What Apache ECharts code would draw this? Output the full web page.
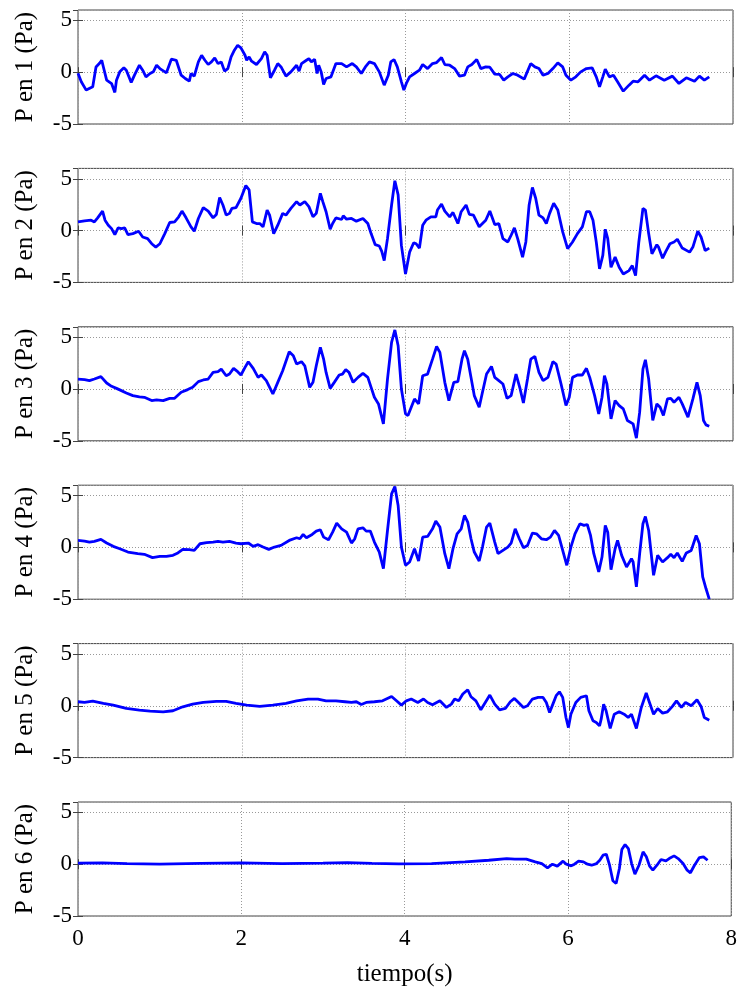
<!DOCTYPE html>
<html>
<head>
<meta charset="utf-8">
<script src="https://cdn.jsdelivr.net/npm/echarts@6/dist/echarts.min.js"></script>
<style>
html, body { margin: 0; padding: 0; background: #fff; }
#main { width: 740px; height: 996px; }
</style>
</head>
<body>
<div id="main"></div>
<script>
// presion en cada sensor, pares [tiempo (s), P (Pa)]
var p1 = [[0,-0.1],[0.01,-0.22],[0.04,-0.93],[0.10,-1.73],[0.18,-1.4],[0.20,-1.25],[0.22,0.5],[0.26,0.83],[0.29,1.15],[0.31,0.5],[0.35,-0.77],[0.41,-1.1],[0.45,-1.95],[0.47,-0.77],[0.51,0.03],[0.56,0.42],[0.59,0.19],[0.65,-0.99],[0.69,-0.29],[0.75,0.67],[0.79,0.19],[0.83,-0.45],[0.88,-0.13],[0.92,0.03],[0.96,0.67],[1.0,0.35],[1.08,-0.06],[1.14,1.25],[1.20,1.15],[1.26,-0.29],[1.31,-0.61],[1.36,-0.87],[1.38,-0.13],[1.42,-0.38],[1.47,0.99],[1.51,1.63],[1.55,1.15],[1.59,0.74],[1.63,0.99],[1.67,1.38],[1.71,0.83],[1.75,0.99],[1.79,0.1],[1.83,0.35],[1.87,1.47],[1.91,2.12],[1.95,2.6],[1.99,2.34],[2.04,1.63],[2.06,1.15],[2.09,1.47],[2.12,1.06],[2.18,0.74],[2.24,1.31],[2.28,1.96],[2.31,1.63],[2.35,-0.54],[2.40,0.19],[2.44,0.83],[2.48,0.51],[2.54,-0.38],[2.60,0.03],[2.67,0.67],[2.70,0.1],[2.73,0.83],[2.79,1.15],[2.82,1.31],[2.85,0.99],[2.89,1.25],[2.92,-0.13],[2.94,0.67],[2.97,0.03],[3.00,-1.19],[3.03,-0.61],[3.09,-0.45],[3.15,0.83],[3.22,0.83],[3.28,0.51],[3.35,0.83],[3.40,0.51],[3.46,-0.13],[3.51,0.51],[3.56,0.99],[3.62,0.83],[3.68,0.03],[3.74,-1.25],[3.79,-0.29],[3.82,0.99],[3.86,1.22],[3.90,0.51],[3.95,-0.93],[3.98,-1.73],[4.01,-1.09],[4.05,-0.45],[4.11,-0.13],[4.17,0.19],[4.21,0.74],[4.27,0.35],[4.33,0.83],[4.38,0.93],[4.44,1.41],[4.48,0.74],[4.54,0.67],[4.60,0.35],[4.66,-0.38],[4.72,-0.29],[4.76,0.51],[4.81,0.74],[4.87,1.22],[4.92,0.35],[4.98,0.51],[5.03,0.48],[5.09,-0.19],[5.15,-0.22],[5.20,-0.77],[5.25,-0.45],[5.31,-0.13],[5.37,-0.29],[5.45,-0.67],[5.53,0.83],[5.58,0.51],[5.63,0.35],[5.68,-0.29],[5.74,-0.13],[5.80,0.35],[5.86,0.9],[5.92,0.51],[5.96,-0.29],[6.02,-0.77],[6.08,-0.45],[6.14,0.03],[6.21,0.35],[6.28,0.42],[6.33,-0.45],[6.37,-1.41],[6.41,-0.45],[6.44,0.29],[6.49,-0.45],[6.54,-0.29],[6.59,-0.93],[6.66,-1.83],[6.73,-1.25],[6.78,-0.87],[6.84,-0.93],[6.92,-0.29],[6.98,-0.77],[7.06,-0.35],[7.16,-0.77],[7.26,-0.38],[7.34,-1.09],[7.43,-0.54],[7.53,-0.87],[7.59,-0.38],[7.65,-0.77],[7.71,-0.45]];

var p2 = [[0,0.84],[0.08,0.94],[0.16,1.0],[0.20,0.84],[0.24,1.23],[0.30,1.88],[0.33,1.0],[0.37,0.52],[0.41,0.19],[0.45,-0.39],[0.49,0.26],[0.53,0.19],[0.57,0.26],[0.61,-0.39],[0.67,-0.29],[0.74,-0.06],[0.79,-0.62],[0.85,-0.78],[0.90,-1.27],[0.95,-1.59],[1.0,-1.27],[1.06,-0.29],[1.12,0.78],[1.18,0.84],[1.23,1.33],[1.27,1.88],[1.32,1.23],[1.38,0.36],[1.42,-0.06],[1.47,1.17],[1.53,2.21],[1.59,1.88],[1.65,1.23],[1.69,1.56],[1.73,3.18],[1.77,2.47],[1.81,1.49],[1.85,1.66],[1.88,2.14],[1.93,2.21],[1.99,3.12],[2.05,4.35],[2.09,3.93],[2.13,0.84],[2.18,0.68],[2.22,0.68],[2.26,0.36],[2.31,1.98],[2.34,1.49],[2.39,-0.29],[2.44,0.52],[2.50,1.66],[2.54,1.49],[2.60,2.14],[2.67,2.79],[2.71,2.47],[2.77,2.79],[2.82,2.31],[2.87,1.33],[2.91,1.66],[2.96,3.6],[2.99,2.79],[3.03,1.82],[3.08,0.13],[3.11,0.68],[3.15,1.23],[3.22,1.07],[3.24,1.43],[3.28,1.1],[3.34,1.17],[3.40,0.91],[3.48,1.17],[3.54,0.68],[3.58,-0.29],[3.63,-1.36],[3.68,-1.49],[3.71,-2.01],[3.74,-2.89],[3.78,-0.78],[3.83,2.47],[3.87,4.81],[3.91,3.44],[3.95,-1.43],[4.0,-4.19],[4.05,-2.08],[4.10,-1.17],[4.13,-1.27],[4.17,-1.69],[4.21,0.52],[4.25,1.0],[4.31,1.33],[4.37,1.33],[4.39,1.98],[4.44,2.56],[4.48,1.88],[4.54,1.33],[4.58,1.75],[4.64,0.68],[4.68,1.82],[4.74,2.47],[4.78,1.56],[4.83,1.49],[4.90,0.36],[4.98,1.0],[5.03,1.88],[5.09,0.58],[5.14,0.68],[5.19,-0.78],[5.25,-1.1],[5.29,-0.45],[5.33,0.26],[5.37,-0.78],[5.43,-2.56],[5.47,-1.1],[5.51,2.47],[5.55,4.16],[5.59,3.12],[5.63,1.49],[5.68,1.23],[5.72,0.68],[5.76,1.66],[5.81,2.63],[5.86,1.98],[5.92,-0.13],[5.98,-1.75],[6.04,-1.1],[6.10,-0.29],[6.16,0.36],[6.21,1.82],[6.25,1.82],[6.29,1.0],[6.33,-1.1],[6.37,-3.7],[6.41,-2.4],[6.44,0.13],[6.47,-0.78],[6.51,-3.54],[6.56,-2.56],[6.61,-3.54],[6.66,-4.19],[6.73,-3.86],[6.77,-3.38],[6.81,-4.35],[6.85,-1.1],[6.90,2.14],[6.93,1.98],[6.97,-0.29],[7.01,-2.24],[7.07,-1.36],[7.09,-1.59],[7.14,-2.66],[7.18,-2.01],[7.23,-1.27],[7.28,-1.1],[7.32,-0.84],[7.38,-1.69],[7.47,-2.08],[7.51,-1.59],[7.57,-0.06],[7.61,-0.62],[7.66,-1.92],[7.71,-1.69]];

var p3 = [[0,0.96],[0.08,0.9],[0.14,0.8],[0.20,0.96],[0.28,1.19],[0.35,0.58],[0.41,0.26],[0.47,0.06],[0.53,-0.16],[0.59,-0.38],[0.67,-0.64],[0.75,-0.77],[0.81,-0.8],[0.90,-1.12],[0.96,-1.06],[1.04,-1.12],[1.12,-0.9],[1.18,-0.9],[1.26,-0.32],[1.34,-0.06],[1.40,0.16],[1.47,0.71],[1.53,0.87],[1.59,0.96],[1.65,1.6],[1.71,1.67],[1.75,1.92],[1.81,1.28],[1.85,1.44],[1.90,1.99],[1.95,1.67],[1.99,1.35],[2.04,2.08],[2.08,2.63],[2.14,1.99],[2.20,1.12],[2.24,1.35],[2.30,0.8],[2.38,-0.48],[2.44,0.64],[2.50,1.76],[2.58,3.59],[2.63,3.21],[2.67,2.4],[2.73,2.63],[2.77,2.24],[2.83,0.16],[2.87,0.64],[2.91,2.24],[2.96,4.01],[3.00,2.88],[3.03,1.6],[3.08,0.06],[3.13,0.64],[3.19,1.35],[3.23,1.44],[3.27,1.86],[3.31,1.6],[3.36,0.64],[3.42,1.12],[3.48,1.51],[3.54,1.12],[3.58,0.16],[3.62,-0.8],[3.67,-1.44],[3.73,-3.37],[3.78,0.96],[3.83,4.49],[3.87,5.7],[3.91,4.17],[3.95,0],[4.0,-2.4],[4.03,-2.56],[4.07,-1.76],[4.11,-0.96],[4.16,-1.44],[4.21,1.28],[4.27,1.44],[4.33,2.88],[4.38,4.1],[4.42,3.53],[4.48,0.64],[4.53,-1.12],[4.59,0.64],[4.64,0.71],[4.69,2.88],[4.72,3.69],[4.76,2.88],[4.80,1.12],[4.84,-0.64],[4.90,-1.76],[4.94,-0.32],[4.99,1.44],[5.05,2.18],[5.09,1.12],[5.14,0.8],[5.19,0.48],[5.24,-0.9],[5.29,-0.64],[5.35,1.44],[5.40,0],[5.44,-1.35],[5.49,0.96],[5.53,2.88],[5.58,3.14],[5.63,1.6],[5.68,0.8],[5.74,1.12],[5.80,2.63],[5.84,2.4],[5.90,0.48],[5.96,-1.6],[6.00,-0.8],[6.04,1.12],[6.10,1.35],[6.16,1.35],[6.21,1.99],[6.25,1.12],[6.31,-0.64],[6.36,-2.4],[6.40,-0.8],[6.43,1.28],[6.46,0.48],[6.51,-2.88],[6.56,-1.12],[6.61,-1.6],[6.66,-1.92],[6.71,-3.04],[6.78,-3.37],[6.82,-4.74],[6.86,-2.24],[6.90,1.92],[6.93,2.82],[6.97,0.96],[7.02,-3.04],[7.07,-1.44],[7.11,-1.76],[7.15,-2.56],[7.20,-0.96],[7.24,-0.9],[7.28,-1.28],[7.34,-0.8],[7.38,-1.44],[7.45,-2.72],[7.51,-0.96],[7.56,0.64],[7.60,-0.64],[7.64,-3.04],[7.67,-3.46],[7.71,-3.59]];

var p4 = [[0,0.67],[0.08,0.61],[0.14,0.51],[0.20,0.58],[0.28,0.77],[0.35,0.42],[0.43,0.1],[0.51,-0.13],[0.61,-0.45],[0.73,-0.61],[0.81,-0.67],[0.91,-0.99],[1.0,-0.87],[1.08,-0.87],[1.16,-0.77],[1.22,-0.54],[1.28,-0.19],[1.36,-0.22],[1.42,-0.29],[1.49,0.35],[1.57,0.45],[1.65,0.51],[1.71,0.58],[1.77,0.51],[1.85,0.58],[1.93,0.42],[1.99,0.35],[2.08,0.42],[2.14,0.1],[2.20,0.26],[2.26,0.03],[2.33,-0.19],[2.40,0.03],[2.48,0.19],[2.58,0.67],[2.67,0.93],[2.71,0.83],[2.75,1.25],[2.79,0.93],[2.86,1.25],[2.91,1.57],[2.96,1.7],[3.00,0.99],[3.06,0.74],[3.11,1.47],[3.16,2.34],[3.22,1.79],[3.28,1.47],[3.34,0.42],[3.38,0.83],[3.42,1.79],[3.48,1.89],[3.52,1.57],[3.57,1.57],[3.62,0.51],[3.68,-0.45],[3.73,-2.05],[3.78,1.63],[3.83,5.16],[3.87,5.87],[3.91,4.04],[3.95,0.03],[4.0,-1.73],[4.05,-1.41],[4.11,-0.13],[4.16,-1.31],[4.21,0.99],[4.27,1.06],[4.33,1.79],[4.37,2.53],[4.42,1.96],[4.48,-0.61],[4.53,-2.05],[4.58,-0.13],[4.63,1.31],[4.68,1.79],[4.72,3.08],[4.76,2.44],[4.80,0.83],[4.84,-0.45],[4.90,-1.31],[4.94,0.03],[4.99,1.96],[5.03,2.34],[5.09,0.51],[5.13,-0.61],[5.19,-0.29],[5.25,0.03],[5.29,0.42],[5.34,1.79],[5.39,0.83],[5.44,-0.03],[5.49,0.19],[5.55,1.38],[5.60,1.31],[5.66,0.83],[5.72,0.74],[5.77,0.99],[5.82,1.63],[5.87,1.15],[5.92,-0.29],[5.97,-1.73],[6.02,0.03],[6.07,1.31],[6.13,2.28],[6.18,2.12],[6.22,2.21],[6.26,1.15],[6.30,-0.61],[6.36,-2.37],[6.40,-0.93],[6.44,2.12],[6.47,1.47],[6.51,-2.15],[6.56,-0.13],[6.59,0.67],[6.64,-0.77],[6.70,-1.89],[6.76,-1.09],[6.78,-1.41],[6.82,-3.81],[6.86,-0.61],[6.90,2.28],[6.93,2.98],[6.97,1.63],[7.03,-2.69],[7.08,-0.77],[7.14,-1.41],[7.20,-0.99],[7.24,-0.67],[7.28,-0.99],[7.32,-0.54],[7.38,-1.35],[7.43,-0.54],[7.49,-0.29],[7.55,1.15],[7.59,0.35],[7.63,-2.85],[7.67,-3.97],[7.71,-5.0]];

var p5 = [[0,0.39],[0.08,0.32],[0.18,0.45],[0.31,0.23],[0.43,0.06],[0.59,-0.26],[0.75,-0.42],[0.88,-0.52],[1.04,-0.58],[1.16,-0.48],[1.28,-0.1],[1.40,0.16],[1.53,0.32],[1.69,0.42],[1.81,0.42],[1.93,0.23],[2.06,0.06],[2.22,-0.06],[2.38,0.06],[2.54,0.23],[2.67,0.48],[2.81,0.65],[2.93,0.65],[3.03,0.48],[3.15,0.48],[3.26,0.39],[3.34,0.32],[3.40,0.39],[3.46,0.13],[3.52,0.32],[3.62,0.39],[3.72,0.48],[3.83,0.9],[3.89,0.48],[3.95,0.06],[4.01,0.48],[4.07,0.65],[4.15,0.32],[4.22,0.65],[4.27,0.32],[4.33,0.1],[4.42,0.48],[4.50,-0.16],[4.56,0.16],[4.60,0.65],[4.65,0.48],[4.70,1.13],[4.76,1.55],[4.80,0.87],[4.86,0.48],[4.92,-0.39],[4.98,0.39],[5.03,1.03],[5.09,0.16],[5.15,-0.39],[5.22,-0.26],[5.28,0.39],[5.33,0.71],[5.38,0.32],[5.44,-0.16],[5.49,0],[5.55,0.65],[5.62,0.81],[5.68,0.81],[5.72,0.32],[5.76,-0.65],[5.80,0.16],[5.84,0.97],[5.88,1.35],[5.92,0.81],[5.96,-1.13],[5.99,-2.1],[6.02,-0.81],[6.08,0.32],[6.14,0.81],[6.21,0.97],[6.24,-0.48],[6.29,-1.45],[6.33,-1.61],[6.37,-1.94],[6.39,-1.29],[6.42,0.16],[6.45,-0.48],[6.50,-2.19],[6.55,-0.81],[6.61,-0.58],[6.67,-0.81],[6.72,-1.13],[6.76,-0.81],[6.82,-2.19],[6.88,-0.16],[6.94,1.23],[6.98,0.32],[7.03,-0.81],[7.08,-0.26],[7.14,-0.71],[7.20,-0.58],[7.26,-0.06],[7.31,0.48],[7.37,-0.16],[7.42,0.32],[7.49,0],[7.56,0.58],[7.61,-0.06],[7.65,-1.13],[7.71,-1.39]];

var p6 = [[0,0.1],[0.3,0.12],[0.6,0.05],[1.0,0.0],[1.5,0.08],[2.0,0.12],[2.5,0.05],[3.0,0.1],[3.3,0.15],[3.6,0.08],[3.93,0.02],[4.33,0.06],[4.74,0.22],[5.03,0.38],[5.25,0.54],[5.35,0.48],[5.49,0.48],[5.60,0.22],[5.68,0.06],[5.75,-0.35],[5.81,0],[5.87,-0.19],[5.94,0.29],[5.98,0],[6.04,-0.16],[6.08,0],[6.13,0.29],[6.19,0.22],[6.24,0],[6.29,-0.1],[6.35,0.06],[6.39,0.38],[6.43,0.87],[6.47,0.96],[6.51,-0.1],[6.55,-1.6],[6.59,-1.86],[6.63,-0.42],[6.66,1.41],[6.70,1.89],[6.74,1.51],[6.78,0.06],[6.82,-0.96],[6.87,-0.1],[6.92,1.19],[6.96,0.71],[7.00,-0.19],[7.04,-0.58],[7.09,-0.1],[7.14,0.45],[7.20,0.32],[7.24,0.54],[7.30,0.8],[7.35,0.54],[7.41,0.06],[7.46,-0.58],[7.50,-0.83],[7.55,-0.1],[7.61,0.64],[7.66,0.71],[7.71,0.38]];

var sensores = [p1, p2, p3, p4, p5, p6];
var nombres = ['P en 1 (Pa)', 'P en 2 (Pa)', 'P en 3 (Pa)', 'P en 4 (Pa)', 'P en 5 (Pa)', 'P en 6 (Pa)'];
var yMin = -5, yMax = 6, yStep = 5;
var xMin = 0, xMax = 8, xStep = 2;

var dom = document.getElementById('main');
var myChart = echarts.init(dom, null, { renderer: 'canvas' });

var fuente = 'Liberation Serif';
var colorEje = '#444';
var grid = [], xAxis = [], yAxis = [], series = [];

for (var i = 0; i < sensores.length; i++) {
    grid.push({
        left: 78, right: 7, top: 10 + i * 158.4, height: 114,
        show: true, borderColor: colorEje, borderWidth: 1, backgroundColor: '#fff'
    });
    // eje x inferior
    xAxis.push({
        gridIndex: i, type: 'value', min: xMin, max: xMax, interval: xStep, position: 'bottom',
        axisLine: { show: false },
        axisTick: { show: true, inside: true, length: 5, lineStyle: { color: colorEje } },
        axisLabel: { show: i === 5, color: '#000', fontFamily: fuente, fontSize: 23, margin: 11 },
        splitLine: { show: true, lineStyle: { type: [1, 2], color: '#999', width: 1 } },
        name: i === 5 ? 'tiempo(s)' : '', nameLocation: 'middle', nameGap: 46,
        nameTextStyle: { color: '#000', fontFamily: fuente, fontSize: 25 }
    });
    // eje x superior (solo marcas)
    xAxis.push({
        gridIndex: i, type: 'value', min: xMin, max: xMax, interval: xStep, position: 'top',
        axisLine: { show: false },
        axisTick: { show: true, inside: true, length: 5, lineStyle: { color: colorEje } },
        axisLabel: { show: false }, splitLine: { show: false }
    });
    // eje y izquierdo
    yAxis.push({
        gridIndex: i, type: 'value', min: yMin, max: yMax, interval: yStep, position: 'left',
        axisLine: { show: false },
        axisTick: { show: true, inside: true, length: 5, lineStyle: { color: colorEje } },
        axisLabel: { color: '#000', fontFamily: fuente, fontSize: 23, margin: 6, showMaxLabel: false },
        splitLine: { show: true, lineStyle: { type: [1, 2], color: '#999', width: 1 } },
        name: nombres[i], nameLocation: 'middle', nameGap: 40,
        nameTextStyle: { color: '#000', fontFamily: fuente, fontSize: 25 }
    });
    // eje y derecho (solo marcas)
    yAxis.push({
        gridIndex: i, type: 'value', min: yMin, max: yMax, interval: yStep, position: 'right',
        axisLine: { show: false },
        axisTick: { show: true, inside: true, length: 5, lineStyle: { color: colorEje } },
        axisLabel: { show: false }, splitLine: { show: false }
    });
    series.push({
        type: 'line', xAxisIndex: 2 * i, yAxisIndex: 2 * i, data: sensores[i],
        showSymbol: false, symbol: 'none', smooth: false,
        lineStyle: { color: '#0000ff', width: 2.8 }
    });
}

option = {
    animation: false,
    grid: grid,
    xAxis: xAxis,
    yAxis: yAxis,
    series: series
};

if (option && typeof option === "object") {
    myChart.setOption(option, true);
}

window.addEventListener("resize", function () {
    myChart.resize();
});
</script>
</body>
</html>
